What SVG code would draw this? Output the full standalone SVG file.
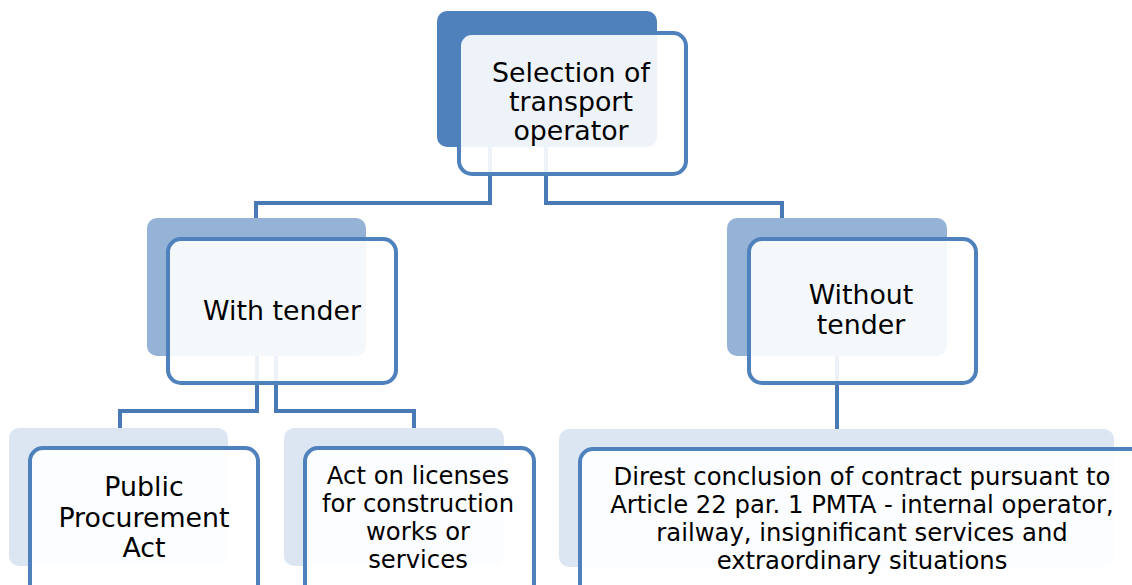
<svg xmlns="http://www.w3.org/2000/svg" width="1132" height="585" viewBox="0 0 1132 585">
  <style>
    .back1 { fill: #4f81bd; }
    .back2 { fill: #95b3d7; }
    .back3 { fill: #dce6f2; }
    .front { fill: #ffffff; fill-opacity: 0.9; stroke: #4f81bd; stroke-width: 4; }
    .link { fill: none; stroke: #4a7ab5; stroke-width: 4; stroke-linejoin: miter; }
    .label { font-family: "DejaVu Sans", Verdana, sans-serif; font-size: 26.8px; fill: #000000; text-anchor: middle; }
    .small { font-size: 24.3px; }
  </style>
  <rect width="1132" height="585" fill="#ffffff"/>

  <!-- back shapes -->
  <g id="shadows">
    <rect class="back1" x="437" y="11" width="220" height="136" rx="10"/>
    <rect class="back2" x="147" y="218" width="219" height="138" rx="10"/>
    <rect class="back2" x="727" y="218" width="220" height="138" rx="10"/>
    <rect class="back3" x="9" y="428" width="219" height="138" rx="10"/>
    <rect class="back3" x="284" y="428" width="220" height="138" rx="10"/>
    <rect class="back3" x="559" y="429" width="555" height="138" rx="10"/>
  </g>

  <!-- connectors -->
  <g id="connectors">
    <path class="link" d="M490,147 V203 H256 V218"/>
    <path class="link" d="M546,147 V203 H782 V218"/>
    <path class="link" d="M257,356 V411 H120 V428"/>
    <path class="link" d="M276,356 V411 H414 V428"/>
    <path class="link" d="M837,356 V429"/>
  </g>

  <g id="selection">
    <rect class="front" x="459" y="33" width="227" height="141" rx="13"/>
    <text class="label" x="571" y="82">Selection of</text>
    <text class="label" x="571" y="111">transport</text>
    <text class="label" x="571" y="140">operator</text>
  </g>

  <g id="with-tender">
    <rect class="front" x="168" y="239" width="228" height="144" rx="13"/>
    <text class="label" x="282" y="320">With tender</text>
  </g>

  <g id="without-tender">
    <rect class="front" x="749" y="239" width="227" height="144" rx="13"/>
    <text class="label" x="861" y="304">Without</text>
    <text class="label" x="861" y="334">tender</text>
  </g>

  <g id="public-procurement">
    <rect class="front" x="30" y="448" width="228" height="160" rx="13"/>
    <text class="label" x="144" y="496">Public</text>
    <text class="label" x="144" y="527">Procurement</text>
    <text class="label" x="144" y="557">Act</text>
  </g>

  <g id="licenses">
    <rect class="front" x="305" y="448" width="229" height="160" rx="13"/>
    <text class="label small" x="418" y="484">Act on licenses</text>
    <text class="label small" x="418" y="512">for construction</text>
    <text class="label small" x="418" y="540">works or</text>
    <text class="label small" x="418" y="568">services</text>
  </g>

  <g id="direct-conclusion">
    <rect class="front" x="580" y="449" width="564" height="160" rx="13"/>
    <text class="label small" x="862" y="485">Direst conclusion of contract pursuant to</text>
    <text class="label small" x="862" y="513">Article 22 par. 1 PMTA - internal operator,</text>
    <text class="label small" x="862" y="541">railway, insignificant services and</text>
    <text class="label small" x="862" y="569">extraordinary situations</text>
  </g>
</svg>
